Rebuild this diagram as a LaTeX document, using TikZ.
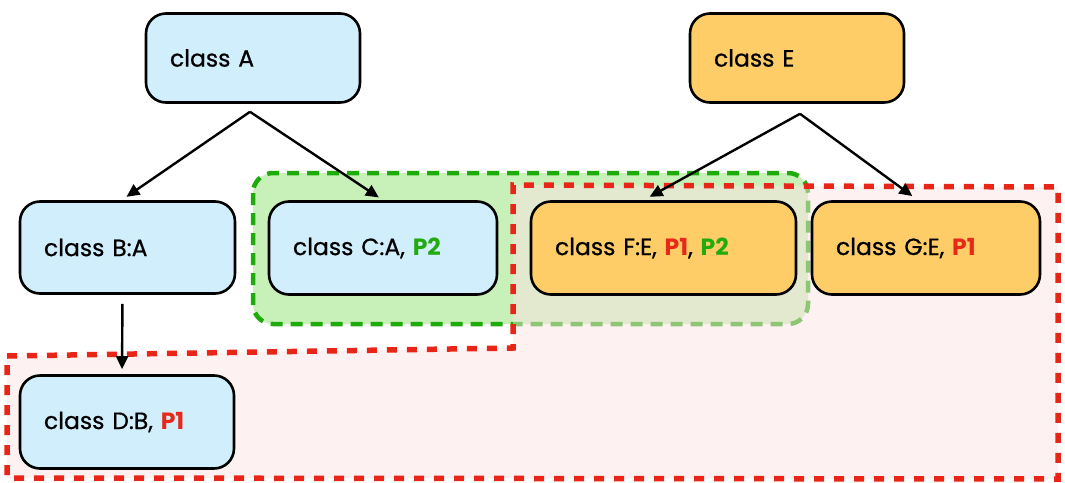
\documentclass[tikz,border=0pt]{standalone}
\usepackage{fontspec}
\setmainfont{Poppins}[UprightFeatures={FakeBold=0.7}]
\usetikzlibrary{arrows.meta}
\definecolor{bluefill}{RGB}{209,238,252}
\definecolor{orangefill}{RGB}{254,205,103}
\definecolor{redline}{RGB}{232,37,22}
\definecolor{greenline}{RGB}{30,172,10}
\definecolor{greenfill}{RGB}{200,240,185}
\definecolor{pinkfill}{RGB}{253,227,227}
\definecolor{ptext}{RGB}{232,40,25}
\definecolor{gtext}{RGB}{34,170,14}
\tikzset{
  cls/.style={draw=black, line width=2.6pt, rounded corners=20pt, align=left,
    inner xsep=24pt, inner ysep=0pt, font=\fontsize{23.5}{27}\selectfont, text=black},
  blue/.style={cls, fill=bluefill},
  orange/.style={cls, fill=orangefill},
  arr/.style={line width=2.4pt, -{Triangle[length=13pt,width=12pt]}},
}
\newcommand{\Pone}{\textcolor{ptext}{\textbf{P1}}}
\newcommand{\Ptwo}{\textcolor{gtext}{\textbf{P2}}}
\begin{document}
\begin{tikzpicture}[x=1pt,y=-1pt]
\useasboundingbox (0,0) rectangle (1065,482);
% green region
\path[fill=greenfill, draw=greenline, line width=4.5pt, dash pattern=on 12pt off 8pt, rounded corners=20pt]
  (253,173) rectangle (808,324);
% red region
\path[fill=pinkfill, fill opacity=0.5, draw=redline, line width=5.5pt, dash pattern=on 10pt off 10pt]
  (7,356) -- (513,348) -- (513,185) -- (1058,187) -- (1058,479) -- (7,478) -- cycle;
% nodes
\node[blue, text width=166pt, minimum height=89pt] (A) at (253,58) {class A};
\node[orange, text width=166pt, minimum height=89pt] (E) at (797,58) {class E};
\node[blue, text width=167pt, minimum height=92pt] (B) at (127.5,247.5) {class B:A};
\node[blue, text width=180pt, minimum height=93pt] (C) at (383,248) {class C:A, \Ptwo};
\node[orange, text width=217pt, minimum height=93pt] (F) at (663.5,248) {class F:E, \Pone, \Ptwo};
\node[orange, text width=180pt, minimum height=93pt] (G) at (926,248) {class G:E, \Pone};
\node[blue, text width=166pt, minimum height=93pt] (D) at (127,422) {class D:B, \Pone};
% connectors
\coordinate (Asplit) at ([xshift=-3pt,yshift=-8pt]A.south);
\coordinate (Esplit) at ([xshift=3pt,yshift=-10pt]E.south);
\draw[arr, shorten >=6pt] (Asplit) -- ([xshift=-6pt]B.north);
\draw[arr, shorten >=5pt] (Asplit) -- (C.north);
\draw[arr, shorten >=7pt] (Esplit) -- ([xshift=-20pt]F.north);
\draw[arr, shorten >=7pt] (Esplit) -- ([xshift=-8pt]G.north);
\draw[arr, shorten <=9pt, shorten >=5pt] ([xshift=-5pt]B.south) -- ([xshift=-5pt]D.north);
\end{tikzpicture}
\end{document}
